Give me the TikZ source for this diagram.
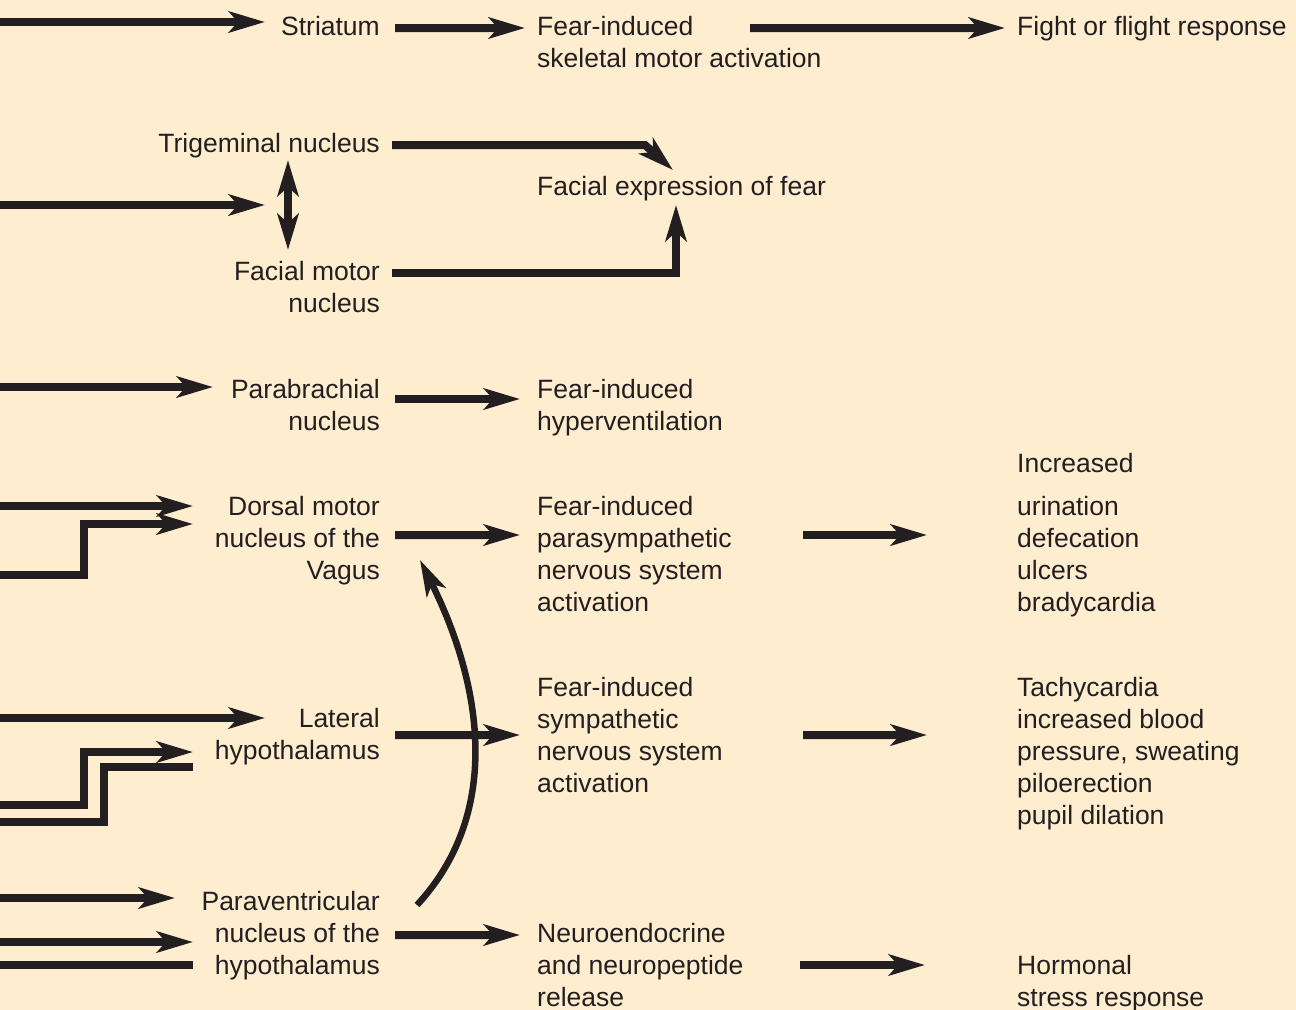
\documentclass[tikz,border=0pt]{standalone}
\usepackage{fontspec}
\setmainfont{Liberation Sans}
\usetikzlibrary{arrows.meta}
\definecolor{bgcream}{RGB}{255,237,208}
\definecolor{inkdark}{RGB}{35,31,32}
\tikzset{
  lbl/.style = {inner sep=0pt, text=inkdark,
    font=\fontsize{26.5bp}{32bp}\selectfont},
  lbl_r/.style = {lbl, align=right, anchor=base east},% nucleus, right aligned, base = last line
  lbl_l/.style = {lbl, align=left, anchor=base west},
  tract/.style = {draw=inkdark, line width=8bp},
}

\begin{document}
\begin{tikzpicture}[x=1bp,y=-1bp,>={Stealth[length=36bp,width=21bp,inset=9bp]}]
\useasboundingbox (0,0) rectangle (1296,1010);
\fill[bgcream] (0,0) rectangle (1296,1010);

% nuclei
\node [lbl_r] (stri) at (380,35) {Striatum};
\node [lbl_r] (trig) at (380,152) {Trigeminal nucleus};
\node [lbl_r] (fmn) at (380,312) {Facial motor\\nucleus};
\node [lbl_r] (pbn) at (380,430) {Parabrachial\\nucleus};
\node [lbl_r] (dmnv) at (380,579) {Dorsal motor\\nucleus of the\\Vagus};
\node [lbl_r] (lh) at (380,759) {Lateral\\hypothalamus};
\node [lbl_r] (pvn) at (380,974) {Paraventricular\\nucleus of the\\hypothalamus};

% fear induced effects
\node [lbl_l] (fsk) at (537,67) {Fear-induced\\skeletal motor activation};
\node [lbl_l] (fexp) at (537,195) {Facial expression of fear};
\node [lbl_l] (fhv) at (537,430) {Fear-induced\\hyperventilation};
\node [lbl_l] (fpar) at (537,611) {Fear-induced\\parasympathetic\\nervous system\\activation};
\node [lbl_l] (fsym) at (537,792) {Fear-induced\\sympathetic\\nervous system\\activation};
\node [lbl_l] (fneu) at (537,1006) {Neuroendocrine\\and neuropeptide\\release};

% responses
\node [lbl_l] (ffr) at (1017,35) {Fight or flight response};
\node [lbl_l] (incr) at (1017,472) {Increased};
\node [lbl_l] (urin) at (1017,611) {urination\\defecation\\ulcers\\bradycardia};
\node [lbl_l] (tach) at (1017,824) {Tachycardia\\increased blood\\pressure, sweating\\piloerection\\pupil dilation};
\node [lbl_l] (horm) at (1017,1006) {Hormonal\\stress response};

% inputs from the left edge
\coordinate (in_st) at (0,22);
\coordinate (in_fa) at (0,205);
\coordinate (in_pb) at (0,387);
\coordinate (in_dm1) at (0,506);
\coordinate (in_dm2) at (0,575);
\coordinate (in_lh1) at (0,718);
\coordinate (in_lh2) at (0,805);
\coordinate (in_lh3) at (0,822);
\coordinate (in_pv1) at (0,898);
\coordinate (in_pv2) at (0,942);
\coordinate (in_pv3) at (0,965);

\draw [tract,->,shorten >=115bp] (in_st) -- (in_st -| stri.east);
\draw [tract,->,shorten >=115bp] (in_fa) -- (in_fa -| fmn.east);
\draw [tract,->,shorten >=167bp] (in_pb) -- (in_pb -| pbn.east);
\draw [tract,->,shorten >=187bp] (in_dm1) -- (in_dm1 -| dmnv.east);
\draw [tract,->,shorten >=187bp] (in_dm2) -- ++(84,0) |- ([yshift=55bp]dmnv.base east);
\draw [tract,->,shorten >=115bp] (in_lh1) -- (in_lh1 -| lh.east);
\draw [tract,->,shorten >=187bp] (in_lh2) -- ++(84,0) |- ([yshift=7bp]lh.base east);
\draw [tract,shorten >=187bp] (in_lh3) -- ++(104,0) |- ([yshift=-8bp]lh.base east);
\draw [tract,->,shorten >=205bp] (in_pv1) -- (in_pv1 -| pvn.east);
\draw [tract,->,shorten >=187bp] (in_pv2) -- (in_pv2 -| pvn.east);
\draw [tract,shorten >=187bp] (in_pv3) -- (in_pv3 -| pvn.east);

% nuclei to effects
\draw [tract,->,shorten <=15bp,shorten >=12bp] ([yshift=7bp]stri.base east) -- ([yshift=39bp]fsk.base west);
\draw [tract,<->] ([xshift=-92bp,yshift=-8bp]trig.base east) -- ([xshift=-92bp,yshift=62bp]fmn.base east);
\draw [tract,->,shorten <=12bp] ([yshift=7bp]trig.base east) -- ++(265,0)
  -- ([xshift=136bp,yshift=25bp]fexp.base west);
\draw [tract,->,shorten <=12bp] ([yshift=39bp]fmn.base east) -| ([xshift=139bp,yshift=-10bp]fexp.base west);
\draw [tract,->,shorten <=15bp,shorten >=17bp] ([yshift=31bp]pbn.base east) -- ([yshift=31bp]fhv.base west);
\draw [tract,->,shorten <=15bp,shorten >=17bp] ([yshift=44bp]dmnv.base east) -- ([yshift=76bp]fpar.base west);
\draw [tract,->,shorten <=15bp,shorten >=17bp] ([yshift=24bp]lh.base east) -- ([yshift=57bp]fsym.base west);
\draw [tract,->,shorten <=15bp,shorten >=17bp] ([yshift=39bp]pvn.base east) -- ([yshift=71bp]fneu.base west);
\draw [tract,->,line width=6.5bp] ([xshift=37bp,yshift=69bp]pvn.base east)
  .. controls +(88,-95) and +(60,120) .. ([xshift=40bp,yshift=19bp]dmnv.base east);

% effects to responses
\draw [tract,->,shorten >=12bp] ([xshift=213bp,yshift=39bp]fsk.base west) -- ([yshift=7bp]ffr.base west);
\draw [tract,->,shorten >=90bp] ([xshift=266bp,yshift=76bp]fpar.base west) -- ([yshift=76bp]urin.base west);
\draw [tract,->,shorten >=90bp] ([xshift=266bp,yshift=57bp]fsym.base west) -- ([yshift=89bp]tach.base west);
\draw [tract,->,shorten >=92bp] ([xshift=263bp,yshift=41bp]fneu.base west) -- ([yshift=41bp]horm.base west);
\end{tikzpicture}
\end{document}
